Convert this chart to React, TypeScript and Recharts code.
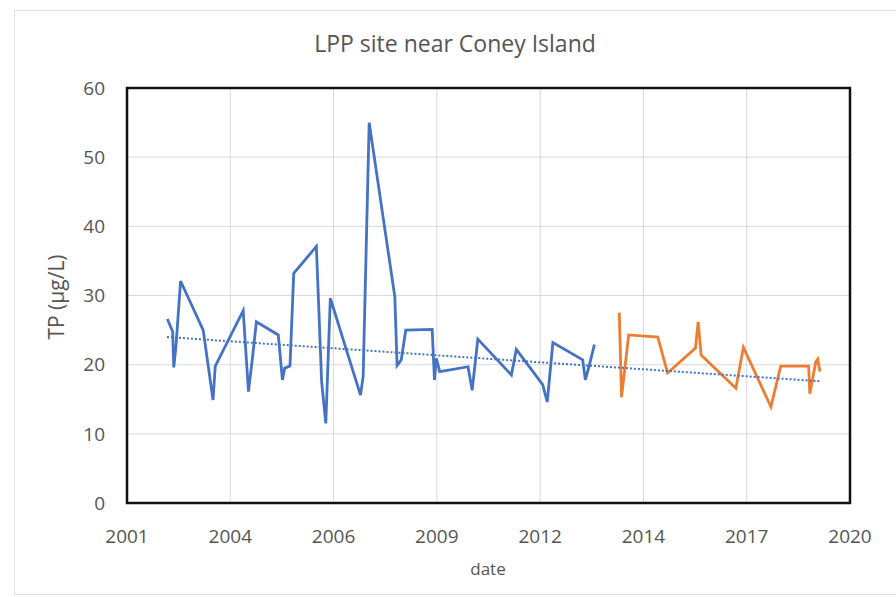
import React from 'react';
import { LineChart, Line, XAxis, YAxis, CartesianGrid, ReferenceArea } from 'recharts';

// decimal years
const blueYears = [
  2002.35, 2002.49, 2002.52, 2002.58, 2002.7, 2003.3, 2003.56, 2003.62, 2004.36, 2004.5,
  2004.61, 2004.71, 2005.29, 2005.4, 2005.46, 2005.6, 2005.7, 2006.3, 2006.44, 2006.55,
  2006.67, 2007.47, 2007.54, 2007.7, 2008.38, 2008.44, 2008.55, 2008.67, 2009.37, 2009.43,
  2009.48, 2009.57, 2010.32, 2010.43, 2010.58, 2011.47, 2011.6, 2012.3, 2012.42, 2012.57,
  2013.36, 2013.43, 2013.54, 2013.67,
];
const blueTP = [
  26.6, 24.8, 19.6, 22.8, 32.1, 25.0, 14.9, 19.8, 27.8, 16.1,
  21.2, 26.2, 24.3, 17.8, 19.5, 19.8, 33.2, 37.1, 17.5, 11.5,
  29.6, 15.6, 18.3, 55.0, 29.8, 19.9, 20.7, 25.0, 25.1, 17.8,
  20.9, 19.0, 19.7, 16.3, 23.7, 18.5, 22.2, 17.1, 14.6, 23.2,
  20.7, 17.8, 20.0, 22.9,
];

const orangeYears = [
  2014.33, 2014.39, 2014.58, 2015.35, 2015.61, 2016.35, 2016.42, 2016.5, 2017.42, 2017.62,
  2018.35, 2018.61, 2019.35, 2019.38, 2019.54, 2019.59, 2019.65,
];
const orangeTP = [
  27.5, 15.3, 24.3, 24.0, 18.8, 22.4, 26.2, 21.4, 16.6, 22.5,
  13.9, 19.8, 19.8, 15.8, 20.4, 20.8, 19.0,
];

const trendYears = [2002.34, 2019.65];
const trendTP = [24.0, 17.6];

// excel date axis: a tick every 1000 days, labelled by year
const xTicks = [2001.28, 2004.018, 2006.756, 2009.494, 2012.232, 2014.97, 2017.708, 2020.446];
const xLabels = ['2001', '2004', '2006', '2009', '2012', '2014', '2017', '2020'];
const yTicks = [0, 10, 20, 30, 40, 50, 60];

const toPoints = (xs: number[], ys: number[]) => xs.map((x, i) => ({ x, tp: ys[i] }));

const blueData = toPoints(blueYears, blueTP);
const orangeData = toPoints(orangeYears, orangeTP);
const trendData = toPoints(trendYears, trendTP);

const font = '"Open Sans", sans-serif';
const grey = '#555555';

const App: React.FC = () => {
  return (
    <div style={{ position: 'absolute', left: 0, top: 0, width: 896, height: 597, background: '#fff', fontFamily: font }}>
      <div
        style={{
          position: 'absolute', left: 14, top: 10, width: 890, height: 583,
          borderTop: '1px solid #e0e0e0', borderLeft: '1px solid #e0e0e0', borderBottom: '1px solid #e0e0e0',
        }}
      />
      <div style={{ position: 'absolute', left: 0, width: 910, top: 27, textAlign: 'center', fontSize: 23, color: grey }}>
        LPP site near Coney Island
      </div>
      <div
        style={{
          position: 'absolute', left: 56, top: 297, transform: 'translate(-50%, -50%) rotate(-90deg)',
          fontSize: 21, color: grey, whiteSpace: 'nowrap',
        }}
      >
        TP (µg/L)
      </div>
      <div style={{ position: 'absolute', left: 488, top: 568, transform: 'translate(-50%, -50%)', fontSize: 17, color: grey }}>
        date
      </div>
      <div style={{ position: 'absolute', left: 0, top: 0 }}>
        <LineChart width={896} height={597} margin={{ top: 88, right: 46, left: 67, bottom: 64 }}>
          <CartesianGrid stroke="#d9d9d9" strokeWidth={1} />
          <XAxis
            dataKey="x"
            type="number"
            domain={[xTicks[0], xTicks[xTicks.length - 1]]}
            ticks={xTicks}
            tickFormatter={(v: number) => xLabels[xTicks.indexOf(v)] ?? ''}
            allowDuplicatedCategory={false}
            height={30}
            axisLine={false}
            tickLine={false}
            tickMargin={21}
            tick={{ fill: grey, fontSize: 19, fontFamily: font }}
          />
          <YAxis
            dataKey="tp"
            type="number"
            domain={[0, 60]}
            ticks={yTicks}
            width={60}
            axisLine={false}
            tickLine={false}
            tickMargin={16}
            tick={{ fill: grey, fontSize: 19, fontFamily: font }}
          />
          <Line data={blueData} dataKey="tp" stroke="#4472C4" strokeWidth={2.8} dot={false} isAnimationActive={false} />
          <Line data={orangeData} dataKey="tp" stroke="#ED7D31" strokeWidth={2.8} dot={false} isAnimationActive={false} />
          <Line
            data={trendData}
            dataKey="tp"
            stroke="#4472C4"
            strokeWidth={2}
            strokeDasharray="2 2"
            dot={false}
            isAnimationActive={false}
          />
          <ReferenceArea x1={xTicks[0]} x2={xTicks[xTicks.length - 1]} y1={0} y2={60} fill="none" stroke="#111" strokeWidth={2.5} />
        </LineChart>
      </div>
    </div>
  );
};

export default App;
